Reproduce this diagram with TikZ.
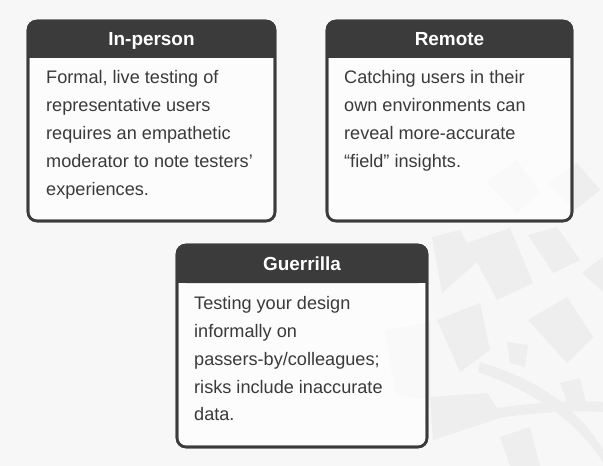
\documentclass[tikz,border=0pt]{standalone}
\usepackage{fontspec}
\setmainfont{Liberation Sans}
\definecolor{bgc}{HTML}{F7F7F7}
\definecolor{dark}{HTML}{3B3B3B}
\definecolor{txt}{HTML}{3A3A3A}
\definecolor{wm}{HTML}{EEEEEE}
\begin{document}
\begin{tikzpicture}[x=1bp,y=-1bp,
  card/.style={draw=dark,line width=2.6bp,rounded corners=9bp,fill=white,fill opacity=0.7},
  head/.style={fill=dark,rounded corners=9bp},
  ttl/.style={text=white,font=\fontsize{19}{22}\selectfont\bfseries,anchor=base},
  body/.style={text=txt,font=\fontsize{18.2}{28}\selectfont,align=left,anchor=north west,inner sep=0pt},
  wmark/.style={fill=wm,draw=none}]
\fill[bgc] (0,0) rectangle (603,466);
\useasboundingbox (0,0) rectangle (603,466);
% watermark
\fill[wmark] (487,182) -- (517,160) -- (540,193) -- (517,213) -- cycle;
\fill[wmark] (547,183) -- (577,163) -- (600,190) -- (575,210) -- cycle;
\fill[wmark] (432,237) -- (460,230) -- (477,262) -- (442,293) -- cycle;
\fill[wmark] (467,243) -- (510,228) -- (533,283) -- (497,300) -- cycle;
\fill[wmark] (528,235) -- (557,227) -- (580,260) -- (553,273) -- cycle;
\fill[wmark] (582,273) -- (603,257) -- (603,292) -- cycle;
\fill[wmark] (437,320) -- (480,303) -- (490,350) -- (460,372) -- cycle;
\fill[wmark] (528,320) -- (567,297) -- (593,337) -- (567,363) -- cycle;
\fill[wmark] (507,342) -- (528,345) -- (525,367) -- (510,363) -- cycle;
\fill[wmark] (430,397) -- (487,393) -- (503,417) -- (433,440) -- cycle;
\fill[wmark] (560,383) -- (580,378) -- (587,407) -- (570,410) -- cycle;
\fill[wmark] (500,437) -- (530,427) -- (540,466) -- (510,466) -- cycle;
\fill[wmark] (385,330) -- (430,322) -- (430,400) -- (395,395) -- cycle;
\fill[wmark] (480,362) .. controls (540,380) and (580,410) .. (603,450) -- (603,462) .. controls (575,420) and (535,392) .. (478,372) -- cycle;
\fill[wmark] (497,408) .. controls (540,402) and (575,400) .. (603,402) -- (603,412) .. controls (575,410) and (540,412) .. (497,418) -- cycle;
% cards
\draw[card] (28,21) rectangle (275,221);
\fill[head] (28,21) rectangle (275,58);
\fill[dark] (28,45) rectangle (275,58);
\draw[card,fill opacity=0] (28,21) rectangle (275,221);
\node[ttl] (t1) at (151.5,46) {In-person};
\node[body] (b1) at (46,70.5) {Formal, live testing of\\representative users\\requires an empathetic\\moderator to note testers’\\experiences.};
\draw[card] (327,21) rectangle (572,221);
\fill[head] (327,21) rectangle (572,58);
\fill[dark] (327,45) rectangle (572,58);
\draw[card,fill opacity=0] (327,21) rectangle (572,221);
\node[ttl] (t2) at (449.5,46) {Remote};
\node[body] (b2) at (344,70.5) {Catching users in their\\own environments can\\reveal more-accurate\\“field” insights.};
\draw[card] (177,245) rectangle (427,447);
\fill[head] (177,245) rectangle (427,283);
\fill[dark] (177,270) rectangle (427,283);
\draw[card,fill opacity=0] (177,245) rectangle (427,447);
\node[ttl] (t3) at (302,271) {Guerrilla};
\node[body] (b3) at (194,296) {Testing your design\\informally on\\passers-by/colleagues;\\risks include inaccurate\\data.};
\end{tikzpicture}
\end{document}
